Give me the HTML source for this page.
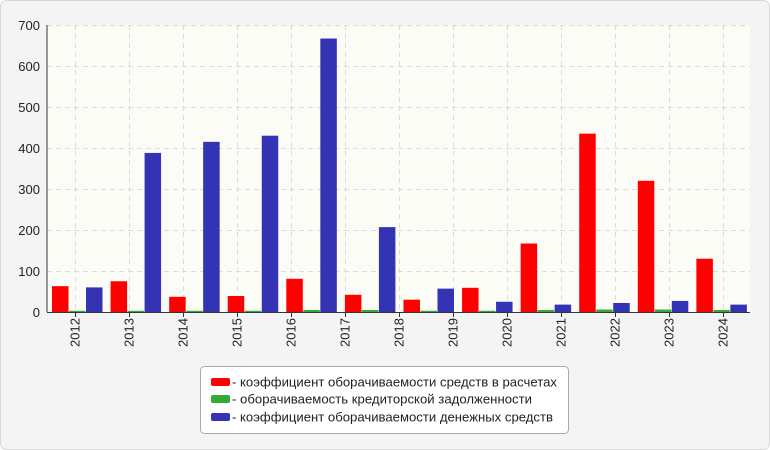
<!DOCTYPE html>
<html><head><meta charset="utf-8"><style>
html,body{margin:0;padding:0;background:#fff;}
svg{display:block;font-family:"Liberation Sans",sans-serif;}
</style></head><body>
<svg id="c" width="770" height="450" xmlns="http://www.w3.org/2000/svg">
<rect x="0.5" y="0.5" width="769" height="449" rx="6" fill="#f4f4f4" stroke="#d8d8d8"/>
<rect x="47" y="25" width="703" height="287" fill="#fcfcf7"/>
<g id="grid" stroke="#dcdcdc" stroke-dasharray="5,4" stroke-width="1"></g>
<g id="bars"></g>
<line x1="47" y1="25" x2="47" y2="312" stroke="#333"/>
<line x1="47" y1="312.5" x2="750" y2="312.5" stroke="#333"/>
<g id="yl" font-size="13" fill="#222" text-anchor="end"></g>
<g id="xl" font-size="13" fill="#222"></g>
<rect x="200.5" y="366.5" width="368" height="67" rx="4" fill="#fff" stroke="#aaa"/>
<rect x="211" y="378" width="19" height="8" rx="2" fill="#f00"/>
<rect x="211" y="395" width="19" height="8" rx="2" fill="#33aa33"/>
<rect x="211" y="413" width="19" height="8" rx="2" fill="#3333b3"/>
<g font-size="13" fill="#222">
<text x="232" y="386.5" textLength="325" lengthAdjust="spacingAndGlyphs">- коэффициент оборачиваемости средств в расчетах</text>
<text x="232" y="403.5" textLength="300" lengthAdjust="spacingAndGlyphs">- оборачиваемость кредиторской задолженности</text>
<text x="232" y="421.5" textLength="321" lengthAdjust="spacingAndGlyphs">- коэффициент оборачиваемости денежных средств</text>
</g>
</svg>
<script>
var NS="http://www.w3.org/2000/svg";
function el(p,t,a,txt){var e=document.createElementNS(NS,t);for(var k in a)e.setAttribute(k,a[k]);if(txt)e.textContent=txt;document.getElementById(p).appendChild(e);}
for(var v=0;v<=700;v+=100){var y=312-v*0.41;
 if(v>0)el("grid","line",{x1:47,x2:750,y1:y+0.5,y2:y+0.5});
 el("yl","text",{x:40,y:y+5},String(v));}
for(var k=0;k<13;k++){var x=75.5+54*k;
 el("grid","line",{x1:x,x2:x,y1:25,y2:312});
 el("grid","line",{x1:x,x2:x,y1:312,y2:317,stroke:"#333","stroke-dasharray":"none"});
 el("xl","text",{x:0,y:0,transform:"translate("+(x+4)+",347) rotate(-90)"},String(2012+k));}
var R=[63,75,37,39,81,42,30,59,167,435,320,130];
var G=[3,3,3,3,5,5,3,3,5,6,6,5];
var B=[60,388,415,430,667,207,57,25,18,22,27,18];
for(var i=0;i<12;i++){var x0=47+58.58*i;
 [[R,"#ff0000",5],[G,"#33aa33",22],[B,"#3333b3",39]].forEach(function(s){
  var h=s[0][i]*0.41;el("bars","rect",{x:x0+s[2],y:312-h,width:16.5,height:h,fill:s[1]});});}
</script>
</body></html>
